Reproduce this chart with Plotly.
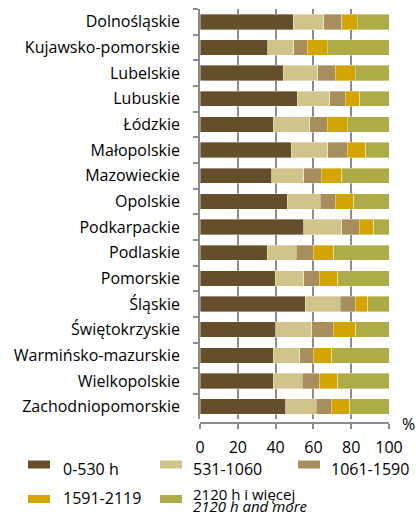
import plotly.graph_objects as go

# Voivodeships, top to bottom
regions = [
    "Dolnośląskie", "Kujawsko-pomorskie", "Lubelskie", "Lubuskie", "Łódzkie",
    "Małopolskie", "Mazowieckie", "Opolskie", "Podkarpackie", "Podlaskie",
    "Pomorskie", "Śląskie", "Świętokrzyskie", "Warmińsko-mazurskie",
    "Wielkopolskie", "Zachodniopomorskie",
]

# Share (%) in each working-time band
h_0_530 = [49.4, 35.8, 44.1, 51.5, 38.8, 48.3, 37.9, 46.2, 54.9, 35.6, 39.9, 55.7, 40.0, 38.8, 38.8, 45.5]
h_531_1060 = [16.2, 13.9, 18.3, 17.1, 19.2, 19.4, 17.1, 17.3, 20.2, 15.2, 15.1, 18.4, 19.1, 14.1, 15.2, 15.9]
h_1061_1590 = [9.4, 7.1, 9.2, 8.3, 9.4, 10.1, 9.2, 8.1, 9.2, 9.2, 8.1, 8.1, 11.4, 7.1, 9.1, 8.1]
h_1591_2119 = [8.3, 10.6, 10.6, 7.6, 10.6, 9.9, 10.8, 9.7, 7.6, 10.7, 9.7, 6.5, 11.9, 9.7, 9.7, 9.7]
h_2120_plus = [16.7, 32.6, 17.8, 15.5, 22.0, 12.3, 25.0, 18.7, 8.1, 29.3, 27.2, 11.3, 17.6, 30.3, 27.2, 20.8]

series_names = ["0-530 h", "531-1060", "1061-1590", "1591-2119",
                "2120 h i więcej<br><i>2120 h and more</i>"]
series_values = [h_0_530, h_531_1060, h_1061_1590, h_1591_2119, h_2120_plus]
colors = ["#654F2B", "#D1C48B", "#A78E5C", "#D4A400", "#ADAC46"]

x_ticks = [0, 20, 40, 60, 80, 100]

FONT = "'Open Sans', 'Noto Sans', sans-serif"
FS = 16
W, H = 416, 517
L, R, T, B = 200, 27, 9, 94
plot_w = W - L - R
plot_h = H - T - B

fig = go.Figure()
for name, vals, col in zip(series_names, series_values, colors):
    fig.add_trace(go.Bar(
        y=regions, x=vals, name=name, orientation="h",
        marker=dict(color=col, line=dict(width=0.6, color="rgba(255,255,255,0.6)")),
        showlegend=False,
    ))


def px_x(px):
    return (px - L) / plot_w


def px_y(py):
    return (H - B - py) / plot_h


def label(x, y, text, size=FS):
    return dict(xref="paper", yref="paper", x=px_x(x), y=px_y(y), text=text,
                showarrow=False, xanchor="left", yanchor="middle", borderpad=0,
                font=dict(size=size, color="#000", family=FONT))


# Legend drawn as swatches + labels in three columns:
# (swatch left, swatch centre y, text left, text centre y)
legend_items = [
    (28, 464.5, 62, 469),
    (160, 464.5, 192, 469),
    (298, 464.5, 330, 469),
    (28, 499, 62, 498),
    (160, 499, 192, 493.5),
]
shapes = []
annotations = []
for (sx, sy, tx, ty), name, col in zip(legend_items, series_names, colors):
    shapes.append(dict(type="rect", xref="paper", yref="paper",
                       x0=px_x(sx), x1=px_x(sx + 22), y0=px_y(sy + 4), y1=px_y(sy - 4),
                       fillcolor=col, line=dict(width=0)))
    lines = name.split("<br>")
    if len(lines) == 1:
        annotations.append(label(tx, ty, name))
    else:
        annotations.append(label(tx, ty, lines[0], 15))
        annotations.append(label(tx, ty + 12.5, lines[1], 15))

annotations.append(dict(xref="paper", yref="paper", x=px_x(408), y=px_y(424),
                        text="%", showarrow=False, xanchor="center", yanchor="middle",
                        borderpad=0, font=dict(size=FS, color="#000", family=FONT)))

fig.update_layout(
    width=W, height=H,
    margin=dict(l=L, r=R, t=T, b=B, pad=0),
    barmode="stack", bargap=0.4,
    plot_bgcolor="white", paper_bgcolor="white",
    font=dict(family=FONT, size=FS, color="#000"),
    shapes=shapes, annotations=annotations,
    xaxis=dict(range=[0, 100], tickvals=x_ticks, ticktext=[str(v) for v in x_ticks],
               anchor="free", position=0,
               showgrid=True, gridcolor="#8C8C8C", gridwidth=1.6,
               showline=True, linecolor="#8C8C8C", linewidth=1.5,
               ticks="outside", ticklen=5, tickcolor="#8C8C8C", tickwidth=1.5,
               ticklabelstandoff=5, zeroline=False, fixedrange=True),
    yaxis=dict(autorange="reversed", domain=[0.0085, 1],
               showline=True, linecolor="#8C8C8C", linewidth=1.5,
               ticks="outside", ticklen=5, tickcolor="#8C8C8C", tickwidth=1.5,
               tickson="boundaries", ticklabelstandoff=15, showgrid=False,
               fixedrange=True),
)

fig.write_html("out.html")
